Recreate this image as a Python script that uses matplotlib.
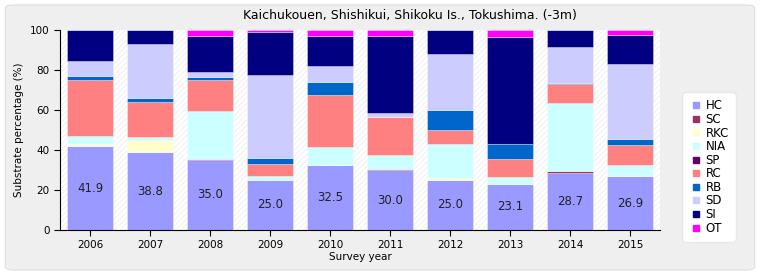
import numpy as np
import matplotlib
matplotlib.use("Agg")
import matplotlib.pyplot as plt
from matplotlib.patches import FancyBboxPatch
from matplotlib.lines import Line2D

# survey years and substrate categories
years = ['2006', '2007', '2008', '2009', '2010', '2011', '2012', '2013', '2014', '2015']
cats = ['HC', 'SC', 'RKC', 'NIA', 'SP', 'RC', 'RB', 'SD', 'SI', 'OT']
colors = ['#9999ff', '#993366', '#ffffcc', '#ccffff', '#660066',
          '#ff8080', '#0066cc', '#ccccff', '#000080', '#ff00ff']

HC  = [41.9, 38.8, 35.0, 25.0, 32.5, 30.0, 25.0, 23.1, 28.7, 26.9]
SC  = [0.0, 0.0, 0.5, 0.0, 0.0, 0.5, 0.0, 0.0, 0.8, 0.0]
RKC = [1.2, 6.2, 0.0, 0.0, 0.0, 0.0, 1.0, 0.0, 0.0, 0.0]
NIA = [4.1, 1.6, 24.0, 2.2, 9.0, 7.0, 17.0, 3.3, 34.0, 5.4]
SP  = [0.0, 0.0, 0.0, 0.0, 0.0, 0.0, 0.0, 0.0, 0.0, 0.0]
RC  = [28.0, 17.6, 15.3, 5.8, 26.2, 19.2, 7.0, 9.2, 9.5, 10.1]
RB  = [2.0, 1.6, 1.8, 3.0, 6.3, 0.0, 10.0, 7.5, 0.5, 3.0]
SD  = [7.2, 27.2, 2.3, 41.5, 8.0, 2.0, 28.0, 0.0, 18.0, 37.7]
SI  = [15.6, 7.0, 18.1, 21.3, 15.0, 38.3, 12.0, 53.2, 8.5, 14.4]
OT  = [0.0, 0.0, 3.0, 1.2, 3.0, 3.0, 0.0, 3.7, 0.0, 2.5]

series = [HC, SC, RKC, NIA, SP, RC, RB, SD, SI, OT]

plt.rcParams['hatch.linewidth'] = 0.6
fig = plt.figure(figsize=(7.6, 2.75), dpi=100)
fig.patch.set_facecolor('white')
panel = FancyBboxPatch((0.007, 0.018), 0.986, 0.964, boxstyle="round,pad=0,rounding_size=0.012",
                       transform=fig.transFigure, facecolor='#efefef', edgecolor='#dedede', lw=0.8,
                       zorder=-10)
fig.patches.append(panel)

ax = fig.add_axes([60/760, 45/275, 600/760, 200/275])
ax.patch.set_facecolor('white')
ax.patch.set_hatch('//////')
ax.patch.set_edgecolor('#eeeeee')

x = np.arange(len(years))
bottom = np.zeros(len(years))
for name, vals, c in zip(cats, series, colors):
    vals = np.array(vals)
    ax.bar(x, vals, 0.78, bottom=bottom, color=c, edgecolor=(1, 1, 1, 0.5), linewidth=0.5, label=name)
    bottom += vals

for i, v in enumerate(HC):
    ax.text(x[i], v / 2, f'{v:.1f}', ha='center', va='center', fontsize=8.5, color='#222222')

ax.set_xlim(-0.5, len(years) - 0.5)
ax.set_ylim(0, 100)
ax.set_xticks(x)
ax.set_xticklabels(years, fontsize=7.5)
ax.set_yticks(range(0, 101, 20))
ax.tick_params(axis='y', labelsize=7.5, length=4)
ax.tick_params(axis='x', length=4)
for s in ['top', 'right']:
    ax.spines[s].set_visible(False)
ax.set_xlabel('Survey year', fontsize=7.5, labelpad=1)
ax.set_ylabel('Substrate percentage (%)', fontsize=7.5)
fig.text(410/760, 1 - 15/275, 'Kaichukouen, Shishikui, Shikoku Is., Tokushima. (-3m)',
         ha='center', va='center', fontsize=9)

handles = [Line2D([], [], marker='s', ls='', color=c, markersize=5) for c in colors]
leg = fig.legend(handles, cats, loc='center', bbox_to_anchor=(709/760, 1 - 167/275),
                 fontsize=8.5, frameon=True, handletextpad=0.2, labelspacing=0.05,
                 borderpad=0.5, handlelength=1.2, framealpha=1)
leg.get_frame().set_edgecolor('#e8e8e8')
leg.get_frame().set_boxstyle('round,pad=0.1,rounding_size=0.3')

fig.savefig('out.png', dpi=100, facecolor=fig.get_facecolor())
